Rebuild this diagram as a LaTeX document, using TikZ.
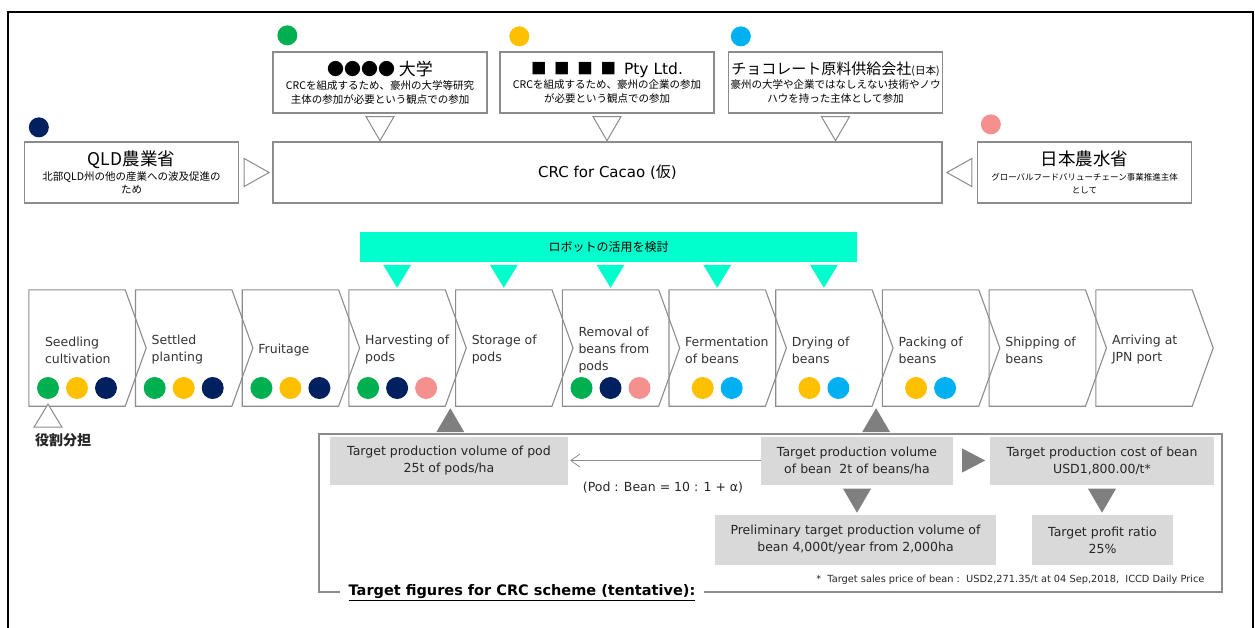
\documentclass[tikz,border=0pt]{standalone}
\usepackage{fontspec}
\setmainfont{DejaVu Sans}
\newfontfamily\jpfont{Noto Sans CJK JP}
\usetikzlibrary{calc,positioning,arrows.meta}

\definecolor{dotgreen}{HTML}{00B050}
\definecolor{dotyellow}{HTML}{FFC000}
\definecolor{dotnavy}{HTML}{002060}
\definecolor{dotblue}{HTML}{00B0F0}
\definecolor{dotpink}{HTML}{F4918F}
\definecolor{robotcyan}{HTML}{00FFCC}
\definecolor{linegray}{HTML}{8C8C8C}
\definecolor{boxgray}{HTML}{D9D9D9}
\definecolor{arrowgray}{HTML}{7F7F7F}
\definecolor{textgray}{HTML}{333333}

\begin{document}
\begin{tikzpicture}[
        x=1pt, y=-1pt,
        actor/.style={
            draw=linegray, line width=1.3pt, fill=white,
            minimum width=214pt, minimum height=61pt,
            inner sep=1pt, align=center,
            font=\jpfont\fontsize{10.5}{13.5}\selectfont
        },
        hub/.style={actor, minimum width=669pt, font=\fontsize{15}{18}\selectfont},
        hollowtri/.style={draw=linegray, line width=1pt, fill=white},
        robot/.style={
            fill=robotcyan, minimum width=497pt, minimum height=30pt,
            inner sep=0pt, font=\jpfont\fontsize{12}{14}\selectfont
        },
        stepbox/.style={minimum width=96pt, minimum height=116pt, inner sep=0pt},
        stepline/.style={draw=linegray, line width=1.1pt},
        steptext/.style={
            anchor=west, align=left, inner sep=0pt, text=textgray,
            font=\fontsize{12.5}{17}\selectfont
        },
        target/.style={
            fill=boxgray, minimum height=48pt, inner sep=0pt, align=center,
            text=black!85, font=\fontsize{12.5}{17}\selectfont
        },
        graytri/.style={fill=arrowgray}
      ]
  \useasboundingbox (0,0) rectangle (1255,628);
  \draw[line width=2pt] (8,628) -- (8,12) -- (1253,12) -- (1253,628);

  \node[actor] (uni) at (380,82.5) {{\fontsize{17}{19}\selectfont ●●●●\ 大学}\\[1pt]CRCを組成するため、豪州の大学等研究\\主体の参加が必要という観点での参加};
  \node[actor] (pty) at (607,82.5) {{\fontsize{15.5}{18}\selectfont ■\hspace{.5em}■\hspace{.5em}■\hspace{.5em}■\hspace{.5em}\rmfamily Pty Ltd.}\\[1pt]CRCを組成するため、豪州の企業の参加\\が必要という観点での参加};
  \node[actor] (choco) at (835.5,82.5) {{\fontsize{15}{18}\selectfont チョコレート原料供給会社{\fontsize{10.5}{12}\selectfont (日本)}}\\[1pt]豪州の大学や企業ではなしえない技術やノウ\\ハウを持った主体として参加};
  \node[hub] (crc) at (607.5,172.5) {CRC for Cacao ({\jpfont 仮})};
  \node[actor] (qld) at (131.5,172.5) {{\fontsize{17.5}{20}\selectfont QLD農業省}\\[1pt]北部QLD州の他の産業への波及促進の\\ため};
  \node[actor] (maff) at (1084.5,172.5) {{\fontsize{17.5}{20}\selectfont 日本農水省}\\[1pt]{\fontsize{8.5}{11}\selectfont グローバルフードバリューチェーン事業推進主体}\\{\fontsize{8.5}{11}\selectfont として}};

  \fill[dotgreen] ($(uni.north west)+(15,-16)$) circle (10);
  \fill[dotyellow] ($(pty.north west)+(20,-15)$) circle (10);
  \fill[dotblue] ($(choco.north west)+(13,-15)$) circle (10);
  \fill[dotnavy] ($(qld.north west)+(15,-14)$) circle (10);
  \fill[dotpink] ($(maff.north west)+(14,-17)$) circle (10);

  \draw[hollowtri] ($(uni.south)+(-14,3)$) -- ($(uni.south)+(14,3)$) -- ($(uni.south)+(0,27)$) -- cycle;
  \draw[hollowtri] ($(pty.south)+(-14,3)$) -- ($(pty.south)+(14,3)$) -- ($(pty.south)+(0,27)$) -- cycle;
  \draw[hollowtri] ($(choco.south)+(-14,3)$) -- ($(choco.south)+(14,3)$) -- ($(choco.south)+(0,27)$) -- cycle;
  \draw[hollowtri] ($(qld.east)+(5,-14)$) -- ($(qld.east)+(30,0)$) -- ($(qld.east)+(5,14)$) -- cycle;
  \draw[hollowtri] ($(maff.west)+(-5,-14)$) -- ($(maff.west)+(-30,0)$) -- ($(maff.west)+(-5,14)$) -- cycle;

  \foreach \lab [count=\i] in {{Seedling\\cultivation},{Settled\\planting},{Fruitage},{Harvesting of\\pods},{Storage of\\pods},{Removal of\\beans from\\pods},{Fermentation\\of beans},{Drying of\\beans},{Packing of\\beans},{Shipping of\\beans},{Arriving at\\JPN port}}{
    \node[stepbox] (s\i) at ({77+(\i-1)*106.7},348) {};
    \draw[stepline] (s\i.north west) -- (s\i.north east) -- ($(s\i.east)+(21,0)$) -- (s\i.south east) -- (s\i.south west) -- cycle;
    \node[steptext] (l\i) at ($(s\i.west)+(16,2)$) {\lab};
  }

  \foreach \i in {1,2,3}
    \foreach \c [count=\j] in {dotgreen,dotyellow,dotnavy}
      \fill[\c] ($(s\i.center)+(\j*29-58,40)$) circle (11);
  \foreach \i in {4,6}
    \foreach \c [count=\j] in {dotgreen,dotnavy,dotpink}
      \fill[\c] ($(s\i.center)+(\j*29-58,40)$) circle (11);
  \foreach \i in {7,8,9}
    \foreach \c [count=\j] in {dotyellow,dotblue}
      \fill[\c] ($(s\i.center)+(\j*29-43.5,40)$) circle (11);

  \draw[hollowtri] ($(s1.south)+(-29,-2)$) -- ($(s1.south)+(-43,21)$) -- ($(s1.south)+(-15,21)$) -- cycle;
  \node[font=\jpfont\bfseries\fontsize{14}{16}\selectfont, text=black!85] (role) at ($(s1.south)+(-14,34)$) {役割分担};

  \node[robot] (robot) at (608.5,247) {ロボットの活用を検討};
  \foreach \i in {4,...,8}
    \fill[robotcyan] ($(s\i.north)+(-14,-25)$) -- ($(s\i.north)+(14,-25)$) -- ($(s\i.north)+(0,-2)$) -- cycle;

  \fill[graytri] ($(s4.south east)+(5,2)$) -- ($(s4.south east)+(19,26)$) -- ($(s4.south east)+(-9,26)$) -- cycle;
  \fill[graytri] ($(s8.south east)+(4,2)$) -- ($(s8.south east)+(18,26)$) -- ($(s8.south east)+(-10,26)$) -- cycle;

  \draw[linegray, line width=1.2pt] (319,434) rectangle (1222,592);
  \node[fill=white, inner xsep=9pt, inner ysep=1pt, text=black, font=\bfseries\fontsize{14.5}{16}\selectfont] (figs) at (522,593) {\underline{Target figures for CRC scheme (tentative):}};

  \node[target, minimum width=238pt] (pod) at (449,460.5) {Target production volume of pod\\25t of pods/ha};
  \node[target, minimum width=192pt] (bean) at (857,460.5) {Target production volume\\of bean\ \ 2t of beans/ha};
  \node[target, minimum width=224pt] (cost) at (1102,460.5) {Target production cost of bean\\USD1,800.00/t*};
  \node[target, minimum width=281pt, minimum height=50pt] (prelim) at (855.5,540) {Preliminary target production volume of\\bean 4,000t/year from 2,000ha};
  \node[target, minimum width=141pt, minimum height=50pt] (profit) at (1102.5,540) {Target profit ratio\\25\%};

  \draw[linegray, line width=0.8pt, -{Straight Barb[length=9pt,width=13pt]}, shorten >=2pt] (bean.west) -- (pod.east);
  \node[text=black!85, font=\fontsize{12.5}{15}\selectfont] (ratio) at (663,488) {(Pod : Bean = 10 : 1 + α)};

  \fill[graytri] ($(bean.east)+(9,-12)$) -- ($(bean.east)+(32,0)$) -- ($(bean.east)+(9,12)$) -- cycle;
  \fill[graytri] ($(bean.south)+(-14,4)$) -- ($(bean.south)+(14,4)$) -- ($(bean.south)+(0,28)$) -- cycle;
  \fill[graytri] ($(cost.south)+(-14,4)$) -- ($(cost.south)+(14,4)$) -- ($(cost.south)+(0,28)$) -- cycle;

  \node[anchor=east, text=black!85, font=\fontsize{9.8}{12}\selectfont] (note) at (1208,580) {*\ \ Target sales price of bean :\ \ USD2,271.35/t at 04 Sep,2018,\ \ ICCD Daily Price};
\end{tikzpicture}
\end{document}
